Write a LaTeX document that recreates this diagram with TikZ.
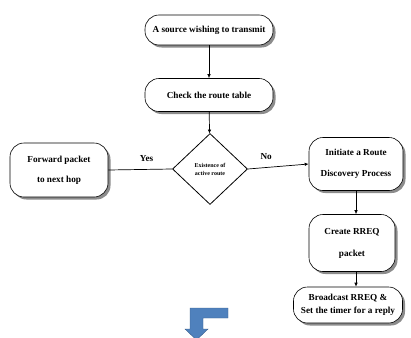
\documentclass[tikz,border=0pt]{standalone}
\usepackage{fontspec}
\setmainfont{Liberation Serif}
\usetikzlibrary{shapes,arrows.meta,positioning,shadows}

\begin{document}
\begin{tikzpicture}[x=1pt, y=-1pt, >={Latex[length=4pt,width=3.5pt]},
  box/.style={rectangle, rounded corners=14pt, draw, fill=white, line width=0.6pt, align=center, inner sep=0pt,
    font=\fontsize{9.2}{11}\selectfont\bfseries,
    drop shadow={shadow xshift=2.5pt, shadow yshift=-2.5pt, fill=black!45, opacity=1}},
  decision/.style={diamond, draw, line width=0.8pt, inner sep=0pt, align=center,
    font=\fontsize{6}{7}\selectfont\bfseries},
  lbl/.style={font=\fontsize{9.2}{11}\selectfont\bfseries},
  flow/.style={line width=0.7pt}]
\useasboundingbox (0,0) rectangle (411,337);

% main column
\node[box, minimum width=128pt, minimum height=30pt] (src) at (209,30) {A source wishing to transmit};
\node[box, minimum width=128pt, minimum height=33pt] (chk) at (209,95) {Check the route table};
\node[decision, minimum width=75pt, minimum height=71pt] (dia) at (210,169) {Existence of\\[1pt]active route};

% branches
\node[box, minimum width=98pt, minimum height=54pt] (fwd) at (59,170) {Forward packet\\[9pt]to next hop};
\node[box, minimum width=94pt, minimum height=53pt] (init) at (356,164) {Initiate a Route\\[10pt]Discovery Process};
\node[box, minimum width=86pt, minimum height=57pt] (crt) at (352,243) {Create RREQ\\[11pt]packet};
\node[box, minimum width=109pt, minimum height=36pt] (bcst) at (348,305) {Broadcast RREQ \&\\[1.5pt]Set the timer for a reply};

\draw[flow, ->] (src) -- (chk);
\draw[flow, ->] (chk) -- (dia);
\draw[flow] (dia.west) -- node[lbl, pos=0.4, above=4pt] {Yes} (fwd.east);
\draw[flow, ->] (dia.east) -- node[lbl, pos=0.3, above=4pt] {No} (init.west);
\draw[flow, ->] (init.south) -- (init.south |- crt.north);
\draw[flow, ->] (init.south |- crt.south) -- (init.south |- bcst.north);

% blue bent arrow
\fill[fill={rgb,255:red,79;green,129;blue,189}, draw={rgb,255:red,56;green,93;blue,138}, line width=0.4pt]
  (228,308) -- (190,308) -- (190,329) -- (185,329) -- (196.5,340) -- (208,329) -- (203,329)
  -- (203,318) -- (228,318) -- cycle;
\end{tikzpicture}
\end{document}
